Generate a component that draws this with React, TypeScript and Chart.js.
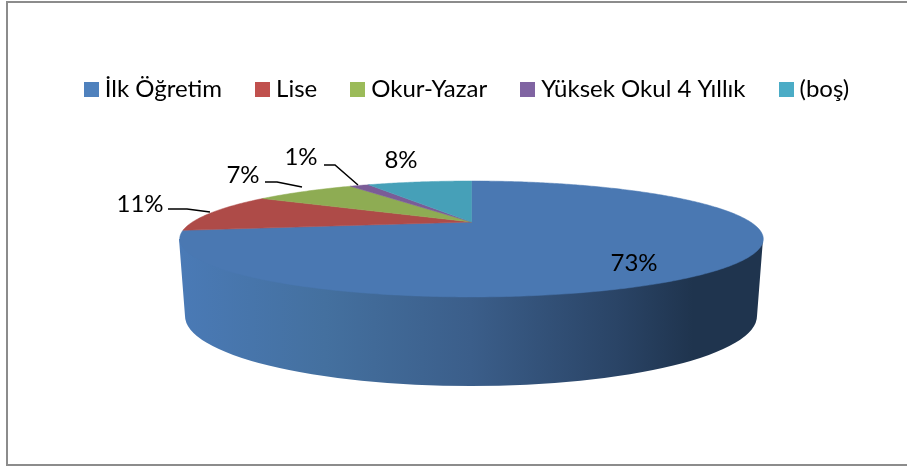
import React, { useEffect, useRef } from "react";
import { Chart, registerables } from "chart.js";

Chart.register(...registerables);

const categories = ["İlk Öğretim", "Lise", "Okur-Yazar", "Yüksek Okul 4 Yıllık", "(boş)"];
const shares = [72.6, 10.9, 7.4, 1.4, 7.7];
const faceColors = ["#4a78b2", "#ae4b48", "#8eac53", "#7a5c97", "#46a0b8"];
const legendColors = ["#4f81bd", "#c0504d", "#9bbb59", "#8064a2", "#4bacc6"];
const labelCenters = [
  [634, 263],
  [140, 204],
  [243, 175],
  [301, 157],
  [401, 160],
];
const leaderLines = [
  [],
  [[168, 209], [187, 209], [210, 212]],
  [[265, 182], [277, 182], [302, 187]],
  [[324, 165], [335, 165], [358, 185]],
  [],
];

const FONT = "Lato, Carlito, Calibri, sans-serif";
const APEX_X = 471.5;
const APEX_Y = 222;
const PERSPECTIVE = -0.293;
const SCALE_X = 279;
const SCALE_Y = 53;

function project(angle: number) {
  const u = Math.cos(angle);
  const v = Math.sin(angle);
  const d = 1 + PERSPECTIVE * v;
  return [APEX_X + (SCALE_X * u) / d, APEX_Y + (SCALE_Y * v) / d];
}

function swatch(color: string) {
  const c = document.createElement("canvas");
  c.width = 15;
  c.height = 15;
  const g = c.getContext("2d")!;
  g.fillStyle = color;
  g.fillRect(0, 0, 15, 15);
  return c;
}

const pie3d = {
  id: "pie3d",
  beforeDraw(chart: any) {
    const { ctx } = chart;
    ctx.save();
    ctx.strokeStyle = "#8c8c8c";
    ctx.lineWidth = 2;
    ctx.beginPath();
    ctx.moveTo(907, 2);
    ctx.lineTo(7, 2);
    ctx.lineTo(7, 465);
    ctx.lineTo(907, 465);
    ctx.stroke();
    ctx.restore();
  },
  beforeDatasetsDraw(chart: any) {
    const { ctx } = chart;
    const arcs = chart.getDatasetMeta(0).data;
    ctx.save();

    const wall = ctx.createLinearGradient(179, 0, 763, 0);
    wall.addColorStop(0, "#4a7ab6");
    wall.addColorStop(0.25, "#44709f");
    wall.addColorStop(0.5, "#3b5e8a");
    wall.addColorStop(0.75, "#2a4466");
    wall.addColorStop(0.88, "#1f344e");
    wall.addColorStop(1, "#1f344e");
    ctx.fillStyle = wall;
    ctx.beginPath();
    ctx.moveTo(179, 239);
    ctx.lineTo(185, 316);
    ctx.ellipse(471, 316, 286, 70, 0, Math.PI, 0, true);
    ctx.lineTo(763, 239);
    ctx.closePath();
    ctx.fill();

    arcs.forEach((arc: any, i: number) => {
      const { startAngle, endAngle } = arc.getProps(["startAngle", "endAngle"], true);
      ctx.fillStyle = faceColors[i];
      ctx.strokeStyle = faceColors[i];
      ctx.lineWidth = 0.5;
      ctx.beginPath();
      ctx.moveTo(APEX_X, APEX_Y);
      const steps = Math.max(4, Math.ceil((endAngle - startAngle) * 90));
      for (let s = 0; s <= steps; s++) {
        const [x, y] = project(startAngle + ((endAngle - startAngle) * s) / steps);
        ctx.lineTo(x, y);
      }
      ctx.closePath();
      ctx.fill();
      ctx.stroke();
    });

    ctx.strokeStyle = "#000";
    ctx.lineWidth = 1.5;
    leaderLines.forEach((pts) => {
      if (!pts.length) return;
      ctx.beginPath();
      pts.forEach(([x, y], k) => (k ? ctx.lineTo(x, y) : ctx.moveTo(x, y)));
      ctx.stroke();
    });

    const total = shares.reduce((a, b) => a + b, 0);
    ctx.fillStyle = "#000";
    ctx.font = `24px ${FONT}`;
    ctx.textAlign = "center";
    ctx.textBaseline = "middle";
    shares.forEach((s, i) => {
      ctx.fillText(`${Math.round((s / total) * 100)}%`, labelCenters[i][0], labelCenters[i][1]);
    });
    ctx.restore();
    return false;
  },
};

export default function App() {
  const ref = useRef<HTMLCanvasElement>(null);
  useEffect(() => {
    document.body.style.margin = "0";
    const chart = new Chart(ref.current!, {
      type: "pie",
      data: {
        labels: categories,
        datasets: [{ data: shares, backgroundColor: faceColors, borderWidth: 0 }],
      },
      options: {
        responsive: false,
        animation: false,
        layout: { padding: { top: 38, left: 32 } },
        plugins: {
          tooltip: { enabled: false },
          legend: {
            display: true,
            position: "top",
            labels: {
              usePointStyle: true,
              pointStyleWidth: 3,
              boxHeight: 15,
              padding: 39,
              color: "#000",
              font: { family: FONT, size: 24 },
              generateLabels: () =>
                categories.map((text, i) => ({
                  text,
                  index: i,
                  pointStyle: swatch(legendColors[i]),
                  fillStyle: legendColors[i],
                  strokeStyle: legendColors[i],
                  lineWidth: 0,
                  hidden: false,
                })),
            },
          },
        },
      },
      plugins: [pie3d],
    } as any);
    return () => chart.destroy();
  }, []);
  return <canvas ref={ref} width={907} height={466} style={{ display: "block" }} />;
}
